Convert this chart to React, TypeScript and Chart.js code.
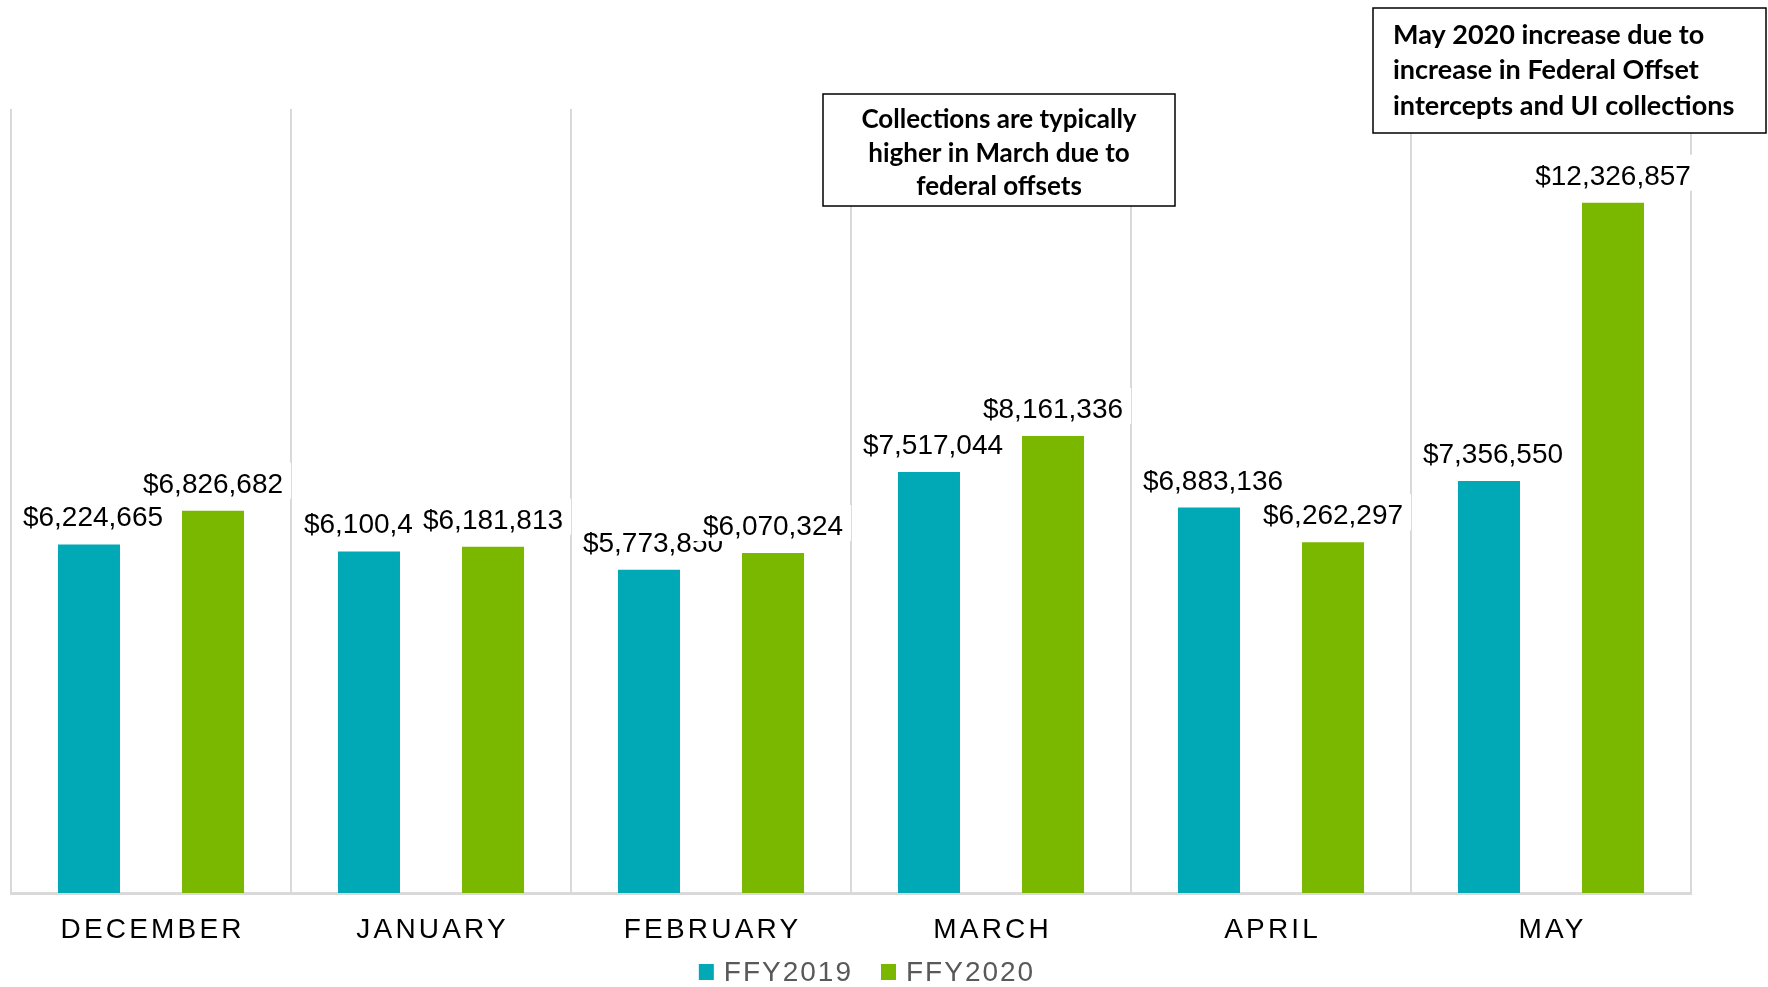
import React, { useEffect, useRef } from 'react';
import { Chart, registerables } from 'chart.js';

Chart.register(...registerables);

const months = ['DECEMBER', 'JANUARY', 'FEBRUARY', 'MARCH', 'APRIL', 'MAY'];
const ffy2019 = [6224665, 6100411, 5773850, 7517044, 6883136, 7356550];
const ffy2020 = [6826682, 6181813, 6070324, 8161336, 6262297, 12326857];
const seriesNames = ['FFY2019', 'FFY2020'];
const seriesColors = ['#00A9B5', '#7AB800'];
const yMax = 14000000;
const marchNote = ['Collections are typically', 'higher in March due to', 'federal offsets'];
const mayNote = ['May 2020 increase due to', 'increase in Federal Offset', 'intercepts and UI collections'];

const FONT = '"Liberation Sans", Arial, sans-serif';
const NOTE_FONT = 'Lato, "Open Sans", sans-serif';

function spacedText(ctx: CanvasRenderingContext2D, text: string, x: number, y: number, sp: number, align: 'center' | 'left') {
  (ctx as any).letterSpacing = '0px';
  const w0 = ctx.measureText(text).width;
  const total = w0 + sp * (text.length - 1);
  (ctx as any).letterSpacing = sp + 'px';
  ctx.textAlign = 'left';
  const sx = align === 'center' ? x - total / 2 : x;
  ctx.fillText(text, sx, y);
  (ctx as any).letterSpacing = '0px';
  return total;
}

const customPlugin = {
  id: 'customDraw',
  afterDatasetsDraw(chart: any) {
    const ctx: CanvasRenderingContext2D = chart.ctx;
    ctx.save();
    ctx.font = `28px ${FONT}`;
    ctx.textBaseline = 'alphabetic';
    chart.data.datasets.forEach((ds: any, di: number) => {
      const meta = chart.getDatasetMeta(di);
      meta.data.forEach((bar: any, i: number) => {
        const v = ds.data[i];
        const text = '$' + Number(v).toLocaleString('en-US');
        const w = ctx.measureText(text).width;
        const cx = bar.x + (di === 0 ? 4 : 0);
        const base = bar.y - 18;
        ctx.fillStyle = '#ffffff';
        ctx.fillRect(cx - w / 2 - 10, base - 30, w + 18, 36);
        ctx.fillStyle = '#000000';
        ctx.textAlign = 'center';
        ctx.fillText(text, cx, base);
      });
    });
    ctx.restore();
  },
  afterDraw(chart: any) {
    const ctx: CanvasRenderingContext2D = chart.ctx;
    const xs = chart.scales.x;
    const area = chart.chartArea;
    ctx.save();
    // category labels
    ctx.font = `28px ${FONT}`;
    ctx.fillStyle = '#000000';
    ctx.textBaseline = 'alphabetic';
    chart.data.labels.forEach((lab: string, i: number) => {
      const cx = xs.getPixelForValue(i);
      spacedText(ctx, lab, cx, area.bottom + 45, 3.2, 'center');
    });

    // legend
    ctx.font = `28px ${FONT}`;
    const legendItems = chart.data.datasets.map((ds: any) => ({ label: ds.label, color: ds.backgroundColor }));
    const sp = 2;
    const widths = legendItems.map((it: any) => {
      (ctx as any).letterSpacing = '0px';
      return ctx.measureText(it.label).width + sp * (it.label.length - 1);
    });
    const boxW = 15, gap = 10, itemGap = 30;
    let total = 0;
    widths.forEach((w: number, i: number) => { total += boxW + gap + w + (i < widths.length - 1 ? itemGap : 0); });
    let lx = chart.width / 2 - 18 - total / 2;
    legendItems.forEach((it: any, i: number) => {
      ctx.fillStyle = it.color;
      ctx.fillRect(lx, area.bottom + 71, boxW, 16);
      lx += boxW + gap;
      ctx.fillStyle = '#595959';
      spacedText(ctx, it.label, lx, area.bottom + 88, sp, 'left');
      lx += widths[i] + itemGap;
    });

    // annotation boxes
    const drawNote = (lines: string[], left: number, top: number, w: number, h: number, align: 'center' | 'left', baselines: number[], size: number) => {
      ctx.fillStyle = '#ffffff';
      ctx.fillRect(left, top, w, h);
      ctx.strokeStyle = '#000000';
      ctx.lineWidth = 1.5;
      ctx.strokeRect(left, top, w, h);
      ctx.fillStyle = '#000000';
      ctx.font = `bold ${size}px ${NOTE_FONT}`;
      ctx.textAlign = align;
      lines.forEach((ln, k) => {
        const x = align === 'center' ? left + w / 2 : left + 20;
        ctx.fillText(ln, x, baselines[k]);
      });
    };
    const mx = xs.getPixelForValue(3);
    drawNote(marchNote, mx - 168, 94, 352, 112, 'center', [128, 161.5, 195], 26);
    const ax = xs.getPixelForValue(5);
    drawNote(mayNote, ax - 178, 8, 393, 125, 'left', [43.5, 79, 114.5], 27);
    ctx.restore();
  },
};

export default function App() {
  const ref = useRef<HTMLCanvasElement | null>(null);
  useEffect(() => {
    if (!ref.current) return;
    const chart = new Chart(ref.current, {
      type: 'bar',
      data: {
        labels: months,
        datasets: [
          { label: seriesNames[0], data: ffy2019, backgroundColor: seriesColors[0], borderWidth: 0, categoryPercentage: 0.886, barPercentage: 0.5 },
          { label: seriesNames[1], data: ffy2020, backgroundColor: seriesColors[1], borderWidth: 0, categoryPercentage: 0.886, barPercentage: 0.5 },
        ],
      },
      options: {
        animation: false,
        responsive: true,
        maintainAspectRatio: false,
        layout: { padding: { left: 11, right: 77, top: 109, bottom: 0 } },
        plugins: { legend: { display: false }, tooltip: { enabled: false } },
        scales: {
          x: {
            offset: true,
            grid: { display: true, color: '#D9D9D9', lineWidth: 2, offset: true, drawTicks: false },
            border: { display: true, color: '#D9D9D9', width: 3 },
            ticks: { display: false },
            afterFit: (s: any) => { s.height = 94; },
          },
          y: { display: false, min: 0, max: yMax },
        },
      },
      plugins: [customPlugin],
    } as any);
    return () => chart.destroy();
  }, []);
  return (
    <div style={{ position: 'absolute', left: 0, top: 0, width: 1768, height: 987, background: '#ffffff' }}>
      <canvas ref={ref} />
    </div>
  );
}
